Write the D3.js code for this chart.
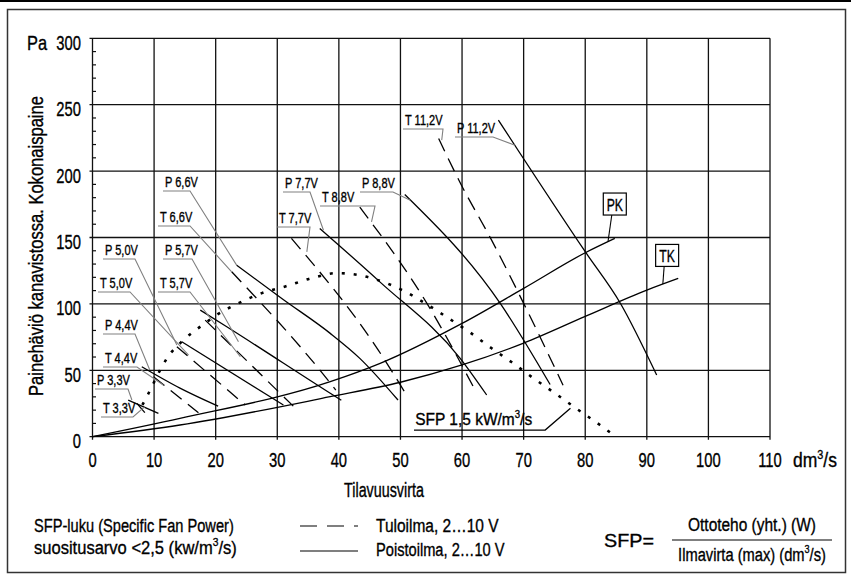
<!DOCTYPE html>
<html><head><meta charset="utf-8">
<script src="https://cdn.jsdelivr.net/npm/d3@7"></script>
<style>
html,body{margin:0;padding:0;background:#fff;}
svg{display:block;}
text{font-family:'Liberation Sans',Arial,sans-serif;fill:#000;stroke:#000;stroke-width:0.35;}
</style></head>
<body>
<svg id="c" width="851" height="586"></svg>
<script>
// ---------- DATA ----------
const xTicks = [0,10,20,30,40,50,60,70,80,90,100,110];
const yTicks = [0,50,100,150,200,250,300];
const yTickLabels = ["0","50","100","150","200","250","300"];

// Poistoilma (solid) fan curves  [flow dm3/s, pressure Pa]
const P33  = [[5.8,27.6],[10.7,17.6]];
const P44  = [[8.0,52.7],[14.2,36.6],[20.4,23.0]];
const P50  = [[14.5,71.5],[31.0,23.9]];
const P57  = [[17.5,95.3],[21.8,82.8],[38.6,32.7],[40.4,27.4]];
const P66  = [[23.4,129.2],[30.9,103.5],[38.6,77.8],[43.4,59.0],[49.6,27.6]];
const P77  = [[36.9,156.8],[46.7,116.4],[59.7,59.0],[64.0,31.4]];
const P88  = [[50.7,182.4],[66.2,100.4],[74.3,39.3]];
const P112 = [[65.9,238.4],[80.0,139.3],[85.7,100.5],[91.6,46.4]];
// Tuloilma (dashed) fan curves
const T33  = [[7.2,25.1],[8.5,18.1]];
const T44  = [[9.9,45.1],[17.2,18.1]];
const T50  = [[13.7,67.7],[24.8,23.9]];
const T57  = [[18.3,87.8],[32.6,23.0]];
const T66  = [[22.6,124.2],[38.0,43.9],[39.5,35.1]];
const T77  = [[32.3,149.3],[46.4,65.2],[51.1,30.6]];
const T88  = [[43.4,172.8],[54.3,100.4],[62.3,33.5]];
const T112 = [[56.2,224.5],[59.9,189.4],[64.8,148.0],[70.0,100.4],[76.4,38.8]];
// System curves
const PK = [[0,0],[14.2,13.8],[38.6,41.4],[46.7,55.2],[60,85.3],[70,111.7],[80,138.5],[84.8,149.3]];
const TK = [[0,0],[14.2,8.8],[38.6,30.1],[50,41],[60,54],[70,70.5],[80,90.6],[90,110.4],[95.1,119.2]];
// SFP 1,5 kW/m3/s curve (dotted)
const SFP = [[8.1,23.9],[9.1,32.7],[11.0,50.3],[12.1,59.1],[14.8,72.9],[18.3,85.5],[20.2,91.8],[23.7,100.5],[27.5,108.1],[31.3,113.1],[35.6,119.4],[39.7,123.2],[41.9,122.6],[46.2,118.1],[50.2,110.6],[54.0,100.5],[57.8,89.2],[61.3,78.5],[64.8,66.6],[68.3,55.3],[71.6,44.0],[75.1,32.7],[78.9,20.1],[82.4,8.8],[84.4,2]];

const curveNames = ["P 3,3V","P 4,4V","P 5,0V","P 5,7V","P 6,6V","P 7,7V","P 8,8V","P 11,2V",
                    "T 3,3V","T 4,4V","T 5,0V","T 5,7V","T 6,6V","T 7,7V","T 8,8V","T 11,2V"];
const curveData  = [P33,P44,P50,P57,P66,P77,P88,P112,T33,T44,T50,T57,T66,T77,T88,T112];
// point of each curve that its label's leader line points at (data units)
const leaderTargets = [[6.4,27.6],[9.3,50.2],[13.7,69.0],[23.7,71.5],[23.4,129.2],[37.5,155.5],[51.6,178.1],[68.6,219.4],
                       [8.5,22.6],[11.5,38.9],[15.6,61.5],[24.0,60.2],[22.6,124.2],[34.8,139.2],[45.3,161.8],[56.7,223.3]];

// ---------- LAYOUT ----------
const L = {x0:92.5, x1:770, y0:436.7, y1:38.3};
const SX = 0.76; // horizontal condensing of the font
const svg = d3.select("#c");
const x = d3.scaleLinear().domain([0,110]).range([L.x0,L.x1]);
const y = d3.scaleLinear().domain([0,300]).range([L.y0,L.y1]);

function txt(parent, px, py, parts, size, o={}){
  const t = parent.append("text").attr("font-size",size).attr("text-anchor",o.anchor||"start");
  if (typeof parts === "string") parts = [[parts,false]];
  let sup=false;
  parts.forEach(([s,isSup])=>{
    const ts = t.append("tspan").text(s);
    if (isSup && !sup){ ts.attr("font-size",size*0.62).attr("dy",-size*0.4); sup=true; }
    else if (!isSup && sup){ ts.attr("dy",size*0.4); sup=false; }
  });
  let sx = o.sx || SX;
  if (o.width){ sx = o.width / t.node().getBBox().width; }
  t.attr("transform",`translate(${px},${py})${o.rot?` rotate(${o.rot})`:""} scale(${sx},1)`);
  return t;
}

// frame
svg.append("line").attr("x1",0).attr("x2",851).attr("y1",1).attr("y2",1).attr("stroke","#000").attr("stroke-width",2);
svg.append("rect").attr("x",7.5).attr("y",9.5).attr("width",838).attr("height",563)
   .attr("fill","none").attr("stroke","#333").attr("stroke-width",1.5);

// grid
const g = svg.append("g");
g.selectAll(".vg").data(xTicks).join("line")
  .attr("x1",d=>x(d)).attr("x2",d=>x(d)).attr("y1",y(300)).attr("y2",y(0)+3)
  .attr("stroke","#111").attr("stroke-width",1.3);
g.selectAll(".hg").data(yTicks).join("line")
  .attr("x1",x(0)-3).attr("x2",x(110)).attr("y1",d=>y(d)).attr("y2",d=>y(d))
  .attr("stroke","#111").attr("stroke-width",1.3);
const minor = d3.range(10,300,10).filter(v=>v%50!==0);
g.selectAll(".mt").data(minor).join("line")
  .attr("x1",x(0)).attr("x2",x(0)+3.5).attr("y1",d=>y(d)).attr("y2",d=>y(d))
  .attr("stroke","#111").attr("stroke-width",1.2);

// axis labels
const F = 20.5;
yTicks.forEach((d,i)=>txt(g, 81, y(d)+11.5, yTickLabels[i], F, {anchor:"end", sx:0.72}));
xTicks.forEach(d=>txt(g, x(d), 467, String(d), F, {anchor:"middle", sx:0.72}));
txt(svg, 27, 50, "Pa", F, {sx:0.8});
txt(svg, 793, 467, [["dm",false],["3",true],["/s",false]], F, {width:44});
txt(svg, 43, 246, "Painehäviö kanavistossa. Kokonaispaine", 19.5, {anchor:"middle", rot:-90, width:300});
txt(svg, 384, 497, "Tilavuusvirta", 19.5, {anchor:"middle", width:80});

// curves
const line = d3.line().x(d=>x(d[0])).y(d=>y(d[1])).curve(d3.curveMonotoneX);
const cg = svg.append("g").attr("fill","none");
cg.selectAll(".fc").data(curveData).join("path")
  .attr("d",line).attr("stroke","#000").attr("stroke-width",1.3)
  .attr("stroke-dasharray",(d,i)=>curveNames[i][0]==="T"?"14,8":null);
cg.selectAll(".sys").data([PK,TK]).join("path")
  .attr("d",line).attr("stroke","#000").attr("stroke-width",1.3);
cg.append("path").attr("d",line(SFP)).attr("stroke","#000").attr("stroke-width",2.6)
  .attr("stroke-dasharray","3,9");

// curve label layout (pixels): text left, baseline, underline right end
const labelLayout = {
 "P 6,6V":[165,187,190], "T 6,6V":[160,222,190],
 "P 5,0V":[105,255,135], "T 5,0V":[100,288,130],
 "P 5,7V":[165,255,192], "T 5,7V":[160,288,190],
 "P 4,4V":[105,330,135], "T 4,4V":[105,363,137],
 "P 3,3V":[97,385,128],  "T 3,3V":[103,413,133],
 "P 7,7V":[285,188,310], "T 7,7V":[279,223,310],
 "T 8,8V":[322,202,375], "P 8,8V":[362,188,393],
 "T 11,2V":[405,125,443],"P 11,2V":[457,133,493]
};
const lg = svg.append("g");
curveNames.forEach((name,i)=>{
  const [tx,ty,ux] = labelLayout[name];
  const a = leaderTargets[i];
  txt(lg, tx, ty, name, 14.5, {sx:0.76});
  lg.append("polyline").attr("fill","none").attr("stroke","#808080").attr("stroke-width",1.1)
    .attr("points",[[tx-2,ty+4],[ux,ty+4],[x(a[0]),y(a[1])]].map(p=>p.join(",")).join(" "));
});

// PK / TK boxes: [text, box centre (data), point on curve (data)]
const boxes = [["PK",84.8,175.2,[83.7,147]],["TK",93.3,136.5,[92.6,115]]];
boxes.forEach(([t,bx,by,a])=>{
  const cx = x(bx), cy = y(by);
  lg.append("rect").attr("x",cx-11.5).attr("y",cy-11).attr("width",23).attr("height",22)
    .attr("fill","#fff").attr("stroke","#000").attr("stroke-width",1.2);
  txt(lg, cx, cy+6.5, t, 17, {anchor:"middle", sx:0.72});
  lg.append("line").attr("x1",cx-3).attr("y1",cy+11).attr("x2",x(a[0])).attr("y2",y(a[1]))
    .attr("stroke","#000").attr("stroke-width",1.1);
});

// SFP label
txt(lg, x(52.4), y(8.8), [["SFP  1,5 kW/m",false],["3",true],["/s",false]], 17, {width:117});
lg.append("polyline").attr("fill","none").attr("stroke","#000").attr("stroke-width",1.3)
  .attr("points",[[x(52.2),y(5)],[x(73.5),y(5)],[x(77.6),y(21.4)]].map(p=>p.join(",")).join(" "));

// bottom legend
const FS = 19;
txt(svg, 34, 532, "SFP-luku (Specific Fan Power)", FS, {width:200});
txt(svg, 34, 554, [["suositusarvo <2,5 (kw/m",false],["3",true],["/s)",false]], FS, {width:203});
svg.append("line").attr("x1",300).attr("x2",358).attr("y1",526).attr("y2",526).attr("stroke","#000").attr("stroke-width",1.2).attr("stroke-dasharray","17,10");
svg.append("line").attr("x1",300).attr("x2",358).attr("y1",551).attr("y2",551).attr("stroke","#000").attr("stroke-width",1.2);
txt(svg, 376, 532, "Tuloilma, 2…10 V", FS, {width:123});
txt(svg, 376, 556, "Poistoilma, 2…10 V", FS, {width:129});
txt(svg, 604, 547, "SFP=", FS, {width:50});
txt(svg, 752, 531, "Ottoteho (yht.) (W)", FS, {anchor:"middle", width:128});
svg.append("line").attr("x1",672).attr("x2",832).attr("y1",540).attr("y2",540).attr("stroke","#000").attr("stroke-width",1.2);
txt(svg, 752, 561, [["Ilmavirta (max) (dm",false],["3",true],["/s)",false]], FS, {anchor:"middle", width:148});
</script>
</body></html>
